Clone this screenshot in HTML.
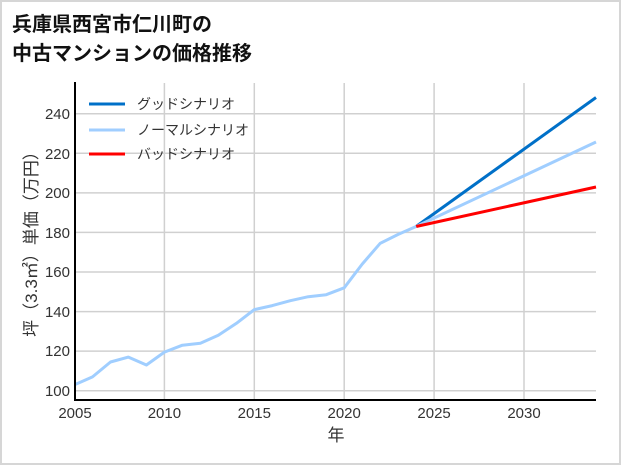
<!DOCTYPE html>
<html><head><meta charset="utf-8"><style>
body{margin:0;background:#fff}
#c{position:relative;width:621px;height:465px;box-sizing:border-box;border:2px solid #d6d6d6;background:#fff;font-family:"Liberation Sans","Noto Sans CJK JP",sans-serif}
</style></head><body><div id="c">
<svg width="621" height="465" style="position:absolute;left:-2px;top:-2px" font-family="Liberation Sans, Noto Sans CJK JP, sans-serif">
<text x="12" y="31" font-size="20" font-weight="bold" fill="#111">兵庫県西宮市仁川町の</text>
<text x="12" y="60" font-size="20" font-weight="bold" fill="#111">中古マンションの価格推移</text>
<g stroke="#d0d0d0" stroke-width="1.5">
<line x1="164.4" y1="83" x2="164.4" y2="400"/><line x1="254.3" y1="83" x2="254.3" y2="400"/><line x1="344.2" y1="83" x2="344.2" y2="400"/><line x1="434.1" y1="83" x2="434.1" y2="400"/><line x1="524" y1="83" x2="524" y2="400"/>
<line x1="75" y1="390.7" x2="596" y2="390.7"/><line x1="75" y1="351.1" x2="596" y2="351.1"/><line x1="75" y1="311.6" x2="596" y2="311.6"/><line x1="75" y1="272" x2="596" y2="272"/><line x1="75" y1="232.4" x2="596" y2="232.4"/><line x1="75" y1="192.9" x2="596" y2="192.9"/><line x1="75" y1="153.3" x2="596" y2="153.3"/><line x1="75" y1="113.7" x2="596" y2="113.7"/>
</g>
<g fill="none" stroke-width="3" stroke-linejoin="round">
<polyline stroke="#0070c8" points="416.1,226.5 596,97.5"/>
<polyline stroke="#a0ceff" points="416.1,226.5 596,142"/>
<polyline stroke="#ff0000" points="416.1,226.5 596,187"/>
<polyline stroke="#a0ceff" points="74.5,384.8 92.5,376.9 110.5,362 128.4,357.1 146.4,365 164.4,352.1 182.4,345.2 200.4,343.2 218.3,335.3 236.3,323.4 254.3,309.6 272.3,305.6 290.3,300.7 308.3,296.7 326.2,294.7 344.2,287.8 362.2,264.1 380.2,243.3 398.2,234.4 416.1,226.5"/>
</g>
<line x1="75" y1="82" x2="75" y2="401" stroke="#000" stroke-width="2"/>
<line x1="74" y1="400" x2="596" y2="400" stroke="#000" stroke-width="2"/>
<g font-size="15" fill="#333" text-anchor="end">
<text x="70" y="396">100</text><text x="70" y="356">120</text><text x="70" y="317">140</text><text x="70" y="277">160</text><text x="70" y="238">180</text><text x="70" y="198">200</text><text x="70" y="159">220</text><text x="70" y="119">240</text>
</g>
<g font-size="15" fill="#333" text-anchor="middle">
<text x="75" y="418">2005</text><text x="164.4" y="418">2010</text><text x="254.3" y="418">2015</text><text x="344.2" y="418">2020</text><text x="434.1" y="418">2025</text><text x="524" y="418">2030</text>
<text x="336" y="441" font-size="17">年</text>
</g>
<text transform="translate(37,240) rotate(-90)" font-size="17" fill="#333" text-anchor="middle">坪（3.3㎡）単価（万円）</text>
<g stroke-width="3">
<line x1="89" y1="104" x2="125" y2="104" stroke="#0070c8"/>
<line x1="89" y1="130" x2="125" y2="130" stroke="#a0ceff"/>
<line x1="89" y1="154" x2="125" y2="154" stroke="#ff0000"/>
</g>
<g font-size="14" fill="#333">
<text x="137" y="109">グッドシナリオ</text><text x="137" y="135">ノーマルシナリオ</text><text x="137" y="159">バッドシナリオ</text>
</g>
</svg></div></body></html>
